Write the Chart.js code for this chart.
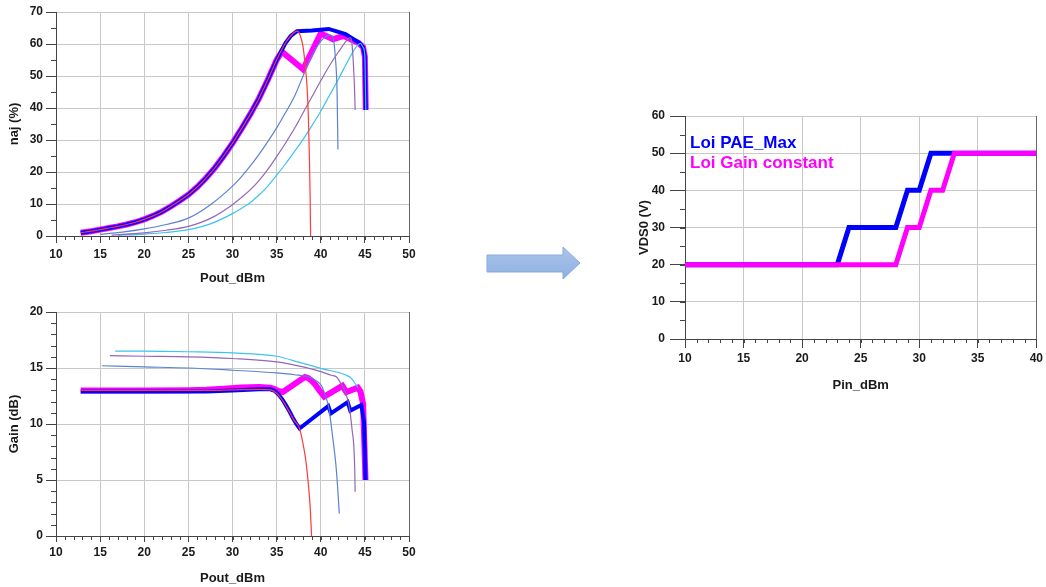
<!DOCTYPE html>
<html>
<head>
<meta charset="utf-8">
<title>Lois de commande VDS0</title>
<script src="https://cdn.jsdelivr.net/npm/chart.js@4.4.1/dist/chart.umd.min.js"></script>
<style>
  body { margin: 0; background: #fff; }
  #page { position: relative; width: 1046px; height: 587px; overflow: hidden; }
  .box { position: absolute; }
  #paeBox { left: 0; top: 0; width: 420px; height: 290px; }
  #gainBox { left: 0; top: 300px; width: 420px; height: 287px; }
  #vdsBox { left: 620px; top: 100px; width: 426px; height: 300px; }
  #arrow { position: absolute; left: 486px; top: 246px; }
</style>
</head>
<body>
<div id="page">
  <div class="box" id="paeBox"><canvas id="paeChart"></canvas></div>
  <div class="box" id="gainBox"><canvas id="gainChart"></canvas></div>
  <svg id="arrow" width="96" height="36" viewBox="0 0 96 36">
    <defs>
      <linearGradient id="ag" x1="0" y1="0" x2="0" y2="1">
        <stop offset="0" stop-color="#abc5eb"/>
        <stop offset="1" stop-color="#8fb0e1"/>
      </linearGradient>
    </defs>
    <polygon points="1,9 77,9 77,1 94,17 77,33 77,26 1,26" fill="url(#ag)" stroke="#89aadb" stroke-width="1"/>
  </svg>
  <div class="box" id="vdsBox"><canvas id="vdsChart"></canvas></div>
</div>
<script>
// ---- PAE (%) vs Pout_dBm : [Pout, PAE]
var paeVds20 = [[12.8,1.0],[14,1.5],[15,2.0],[16,2.5],[17,3.0],[18,3.6],[19,4.3],[20,5.2],[21,6.3],[22,7.6],[23,9.2],[24,11.0],[25,12.9],
                [26,15.3],[27,18.1],[28,21.3],[29,25],[30,29],[31,33.4],[32,38],[33,43],[34,48.8],[35,55],[36,60.3],[36.6,62.5],[37.3,64],
                [37.7,62.5],[38.0,59],[38.25,53],[38.45,46.5],[38.6,37],[38.7,26],[38.8,12],[38.85,0]];
var paeVds30 = [[15.0,0.5],[17.5,1.2],[20,2.2],[22.5,3.6],[25,5.6],[27.5,9.8],[30,15.6],[31,18.5],[32,21.8],[33,25.5],[34,29.5],[35,33.8],
                [36,38.5],[37,43.5],[38,50],[39,56.5],[39.6,59.3],[40.2,61.5],[41.1,62.8],
                [41.4,62],[41.65,56],[41.85,45],[41.95,27]];
var paeVds40 = [[16.3,0.3],[20,1.0],[22.5,1.8],[25,3.0],[27.5,5.5],[30,9.8],[31,12],[32,14.4],[33,17.3],[34,20.8],[35,24.8],[36,29],
                [37,33.5],[38,38.5],[39,43.5],[40,48.5],[41,53.3],[42,57.5],[43,61.3],[43.3,62],
                [43.5,61],[43.65,56],[43.8,48],[43.9,39.4]];
var paeVds50 = [[17,0.2],[20,0.6],[22.5,1.1],[25,2.0],[27.5,3.8],[30,7.0],[31,8.6],[32,10.4],[33,12.8],[34,15.6],[35,19],[36,22.5],
                [37,26.3],[38,30.2],[39,34.5],[40,39],[41,44],[42,49],[43,54.3],[44,59],[44.5,60.2],
                [44.8,59],[45.0,56],[45.1,39.4]];
var paeLoiMax = [[12.8,1.0],[14,1.5],[15,2.0],[16,2.5],[17,3.0],[18,3.6],[19,4.3],[20,5.2],[21,6.3],[22,7.6],[23,9.2],[24,11.0],[25,12.9],
                 [26,15.3],[27,18.1],[28,21.3],[29,25],[30,29],[31,33.4],[32,38],[33,43],[34,48.8],[35,55],[36,60.3],[36.6,62.5],[37.3,64],
                 [39,64.2],[40.9,64.7],[42.8,63.1],[44.4,60.3],[44.8,59],[45.0,56],[45.1,39.4]];
var paeLoiGain = [[12.8,1.0],[14,1.5],[15,2.0],[16,2.5],[17,3.0],[18,3.6],[19,4.3],[20,5.2],[21,6.3],[22,7.6],[23,9.2],[24,11.0],[25,12.9],
                  [26,15.3],[27,18.1],[28,21.3],[29,25],[30,29],[31,33.4],[32,38],[33,43],[34,48.8],[35,55],[35.6,57.6],
                  [38.0,52.1],[40.0,63.3],[41.4,61.5],[42.6,62.5],[44.3,60.3],[44.8,59],[45.0,56],[45.1,39.4]];

// ---- Gain (dB) vs Pout_dBm : [Pout, Gain]
var gainVds20 = [[12.8,13.0],[20,13.0],[27,13.0],[30,13.05],[33,13.1],[34.3,13.05],[35,12.75],[35.5,12.3],[36,11.7],[36.5,11.0],[37,10.3],[37.6,9.6],
                 [38.0,8.2],[38.3,6.8],[38.6,4.6],[38.8,2.6],[38.96,0]];
var gainVds30 = [[15.2,15.2],[20,15.1],[25,15.0],[30,14.8],[35,14.56],[37,14.4],[38.8,14.15],[39.6,13.8],[40.1,13.4],[40.5,12.6],[40.9,11.5],[41.2,9.8],
                 [41.45,8.2],[41.7,6.5],[41.9,4.5],[42.1,2.0]];
var gainVds40 = [[16.1,16.1],[20,16.05],[25,16.0],[30,15.85],[35,15.55],[38,15.1],[40.1,14.65],[41.2,14.35],[41.8,14.2],[42.35,13.5],[42.9,12.6],
                 [43.3,11.2],[43.55,9.5],[43.75,8.0],[43.85,6],[43.9,3.95]];
var gainVds50 = [[16.7,16.5],[20,16.5],[25,16.45],[30,16.35],[35,16.05],[37.6,15.5],[40.1,14.95],[42.9,14.35],[43.5,14.05],[43.9,13.6],[44.2,13.25]];
var gainLoiMax = [[12.8,12.9],[20,12.9],[27,12.9],[30,13.0],[33,13.1],[34.3,13.1],[34.8,12.95],[35.2,12.65],[35.6,12.25],[36,11.75],[36.4,11.2],
                  [36.8,10.6],[37.2,10.05],[37.6,9.6],
                  [40.85,11.6],[41.15,10.95],[43.05,11.95],[43.35,11.2],[44.6,11.7],[44.9,10.2],[45.07,5.0]];
var gainLoiGain = [[12.8,13.0],[20,13.0],[25,13.02],[27,13.05],[29,13.15],[31,13.25],[33,13.3],[34.3,13.25],[34.8,13.1],[35.2,12.95],[35.7,12.85],
                   [38.2,14.2],[38.6,14.1],[39.0,13.85],[39.4,13.5],[39.8,13.05],[40.4,12.45],
                   [42.45,13.4],[42.9,12.85],[44.2,13.25],[44.5,12.9],[44.8,11.8],[45.07,5.0]];

// ---- VDS0 (V) vs Pin_dBm
var loiNames = ['Loi PAE_Max', 'Loi Gain constant'];
var pinMax = [10, 23, 24, 28, 29, 30, 31, 40];
var vdsMax = [20, 20, 30, 30, 40, 40, 50, 50];
var pinGain = [10, 28, 29, 30, 31, 32, 33, 40];
var vdsGain = [20, 20, 30, 30, 40, 40, 50, 50];

var RED = '#ff3b3b', STEEL = '#5a83d2', PURPLE = '#9566b8', CYAN = '#3cc4f0';
var BLUE = '#0000ff', MAGENTA = '#ff00ff';

Chart.defaults.font.family = '"Liberation Sans", Arial, sans-serif';
Chart.defaults.color = '#1a1a1a';

// thin traces are smoothed, thick law traces keep their corners
function curve(label, pts, color, width, smooth) {
    var ds = {
        label: label,
        data: pts.map(function (p) { return { x: p[0], y: p[1] }; }),
        borderColor: color,
        borderWidth: width,
        pointRadius: 0,
        fill: false
    };
    if (smooth) ds.cubicInterpolationMode = 'monotone';
    else ds.tension = 0;
    return ds;
}

function steps(label, xs, ys, color, order) {
    return {
        label: label,
        data: xs.map(function (x, i) { return { x: x, y: ys[i] }; }),
        borderColor: color,
        borderWidth: 5,
        pointRadius: 0,
        tension: 0,
        order: order,
        fill: false
    };
}

// minor ticks + dark right frame
function frameTicks(xStep, yStep) {
    return {
        id: 'frameTicks',
        afterDraw: function (chart) {
            var ctx = chart.ctx, a = chart.chartArea;
            var xs = chart.scales.x, ys = chart.scales.y;
            ctx.save();
            ctx.strokeStyle = '#444';
            ctx.lineWidth = 1;
            ctx.beginPath();
            for (var v = xs.min; v <= xs.max + 1e-6; v += xStep) {
                var px = Math.round(xs.getPixelForValue(v)) + 0.5;
                ctx.moveTo(px, a.bottom);
                ctx.lineTo(px, a.bottom + 4);
            }
            for (var w = ys.min; w <= ys.max + 1e-6; w += yStep) {
                var py = Math.round(ys.getPixelForValue(w)) + 0.5;
                ctx.moveTo(a.left, py);
                ctx.lineTo(a.left - 5, py);
            }
            ctx.stroke();
            ctx.strokeStyle = '#666';
            ctx.beginPath();
            ctx.moveTo(Math.round(a.right) + 0.5, a.top);
            ctx.lineTo(Math.round(a.right) + 0.5, a.bottom);
            ctx.stroke();
            ctx.restore();
        }
    };
}

function axes(o) {
    return {
        x: {
            type: 'linear', min: o.xMin, max: o.xMax,
            afterFit: function (s) { s.height = o.xHeight; },
            ticks: { stepSize: o.xStep, padding: o.xPad, color: '#1a1a1a', font: { size: 12, weight: 'bold' } },
            grid: { color: '#c8c8c8', tickColor: '#444', tickLength: o.xTick },
            border: { color: '#444', width: 1 },
            title: { display: true, text: o.xTitle, color: '#1a1a1a', font: { size: 13, weight: 'bold' }, padding: { top: 0, bottom: o.xTitlePad } }
        },
        y: {
            type: 'linear', min: o.yMin, max: o.yMax,
            afterFit: function (s) { s.width = o.yWidth; },
            ticks: { stepSize: o.yStep, padding: o.yPad, color: '#1a1a1a', font: { size: 12, weight: 'bold' } },
            grid: { color: '#c8c8c8', tickColor: '#444', tickLength: o.yTick },
            border: { color: '#444', width: 1 },
            title: { display: true, text: o.yTitle, color: '#1a1a1a', font: { size: 13, weight: 'bold' }, padding: { top: o.yTitlePad, bottom: 0 } }
        }
    };
}

function baseOptions(padding, scales) {
    return {
        responsive: true,
        maintainAspectRatio: false,
        animation: false,
        layout: { padding: padding },
        plugins: { legend: { display: false }, tooltip: { enabled: false } },
        scales: scales
    };
}

new Chart('paeChart', {
    type: 'line',
    data: {
        datasets: [
            curve('VDS0 = 20 V', paeVds20, RED, 1.2, true),
            curve('VDS0 = 30 V', paeVds30, STEEL, 1.2, true),
            curve('VDS0 = 40 V', paeVds40, PURPLE, 1.2, true),
            curve('VDS0 = 50 V', paeVds50, CYAN, 1.2, true),
            curve(loiNames[0], paeLoiMax, BLUE, 4, false),
            curve(loiNames[1], paeLoiGain, MAGENTA, 6, false)
        ]
    },
    options: baseOptions({ top: 12, right: 11 }, axes({
        xMin: 10, xMax: 50, xStep: 5, xHeight: 54, xTick: 7, xPad: 4, xTitle: 'Pout_dBm', xTitlePad: 4,
        yMin: 0, yMax: 70, yStep: 10, yWidth: 56, yTick: 10, yPad: 3, yTitle: 'naj (%)', yTitlePad: 7
    })),
    plugins: [frameTicks(1, 5)]
});

new Chart('gainChart', {
    type: 'line',
    data: {
        datasets: [
            curve('VDS0 = 20 V', gainVds20, RED, 1.2, true),
            curve('VDS0 = 30 V', gainVds30, STEEL, 1.2, true),
            curve('VDS0 = 40 V', gainVds40, PURPLE, 1.2, true),
            curve('VDS0 = 50 V', gainVds50, CYAN, 1.2, true),
            curve(loiNames[0], gainLoiMax, BLUE, 4, false),
            curve(loiNames[1], gainLoiGain, MAGENTA, 6, false)
        ]
    },
    options: baseOptions({ top: 12, right: 11 }, axes({
        xMin: 10, xMax: 50, xStep: 5, xHeight: 51, xTick: 6, xPad: 3, xTitle: 'Pout_dBm', xTitlePad: 1,
        yMin: 0, yMax: 20, yStep: 5, yWidth: 56, yTick: 10, yPad: 3, yTitle: 'Gain (dB)', yTitlePad: 7
    })),
    plugins: [frameTicks(1, 1)]
});

// coloured legend text inside the plot area
var lawLegend = {
    id: 'lawLegend',
    afterDatasetsDraw: function (chart) {
        var ctx = chart.ctx, a = chart.chartArea;
        ctx.save();
        ctx.font = 'bold 17px "Liberation Sans", Arial, sans-serif';
        ctx.textBaseline = 'middle';
        chart.data.datasets.forEach(function (ds, i) {
            ctx.fillStyle = ds.borderColor;
            ctx.fillText(ds.label, a.left + 5, a.top + 27 + i * 20);
        });
        ctx.restore();
    }
};

new Chart('vdsChart', {
    type: 'line',
    data: {
        datasets: [
            steps(loiNames[0], pinMax, vdsMax, BLUE, 1),
            steps(loiNames[1], pinGain, vdsGain, MAGENTA, 0)
        ]
    },
    options: baseOptions({ top: 16, right: 7 }, axes({
        xMin: 10, xMax: 40, xStep: 5, xHeight: 61, xTick: 9, xPad: 3, xTitle: 'Pin_dBm', xTitlePad: 7,
        yMin: 0, yMax: 60, yStep: 10, yWidth: 65, yTick: 15, yPad: 5, yTitle: 'VDS0 (V)', yTitlePad: 17
    })),
    plugins: [frameTicks(1, 5), lawLegend]
});
</script>
</body>
</html>
